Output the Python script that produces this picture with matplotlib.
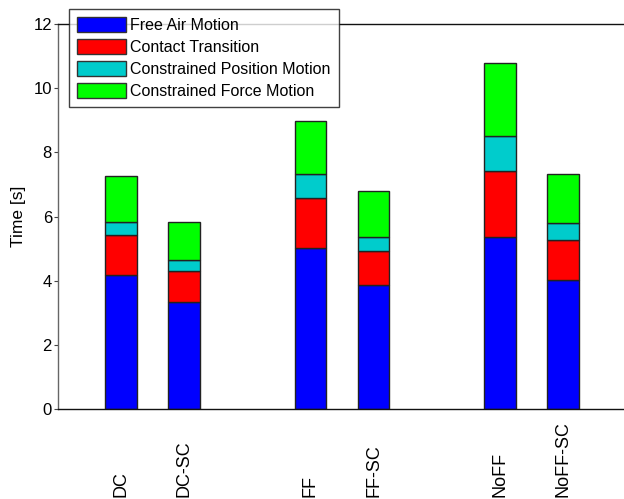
import matplotlib
matplotlib.use("Agg")
import matplotlib.pyplot as plt
from matplotlib.patches import Patch
from matplotlib.transforms import blended_transform_factory

plt.rcParams['font.family'] = ['Liberation Sans', 'DejaVu Sans']

# Controller variants and their timing breakdown (seconds)
categories = ["DC", "DC-SC", "FF", "FF-SC", "NoFF", "NoFF-SC"]
positions = [1, 2, 4, 5, 7, 8]
free_air = [4.19, 3.33, 5.01, 3.87, 5.35, 4.02]
contact_transition = [1.22, 0.96, 1.56, 1.06, 2.06, 1.25]
constrained_position = [0.43, 0.35, 0.76, 0.43, 1.09, 0.53]
constrained_force = [1.43, 1.19, 1.65, 1.44, 2.28, 1.53]

phase_names = ["Free Air Motion", "Contact Transition",
               "Constrained Position Motion", "Constrained Force Motion"]
phase_colors = ["#0000ff", "#ff0000", "#00cccc", "#00ff00"]
y_ticks = [0, 2, 4, 6, 8, 10, 12]

fig = plt.figure(figsize=(6.24, 4.99), dpi=100)
ax = fig.add_axes([57.5 / 624, 1 - 409 / 499, (626.5 - 57.5) / 624, (409 - 24) / 499])

bottom = [0.0] * len(categories)
for vals, color in zip([free_air, contact_transition, constrained_position, constrained_force],
                       phase_colors):
    ax.bar(positions, vals, width=0.5, bottom=bottom, color=color,
           edgecolor="#222222", linewidth=1.0, zorder=2)
    bottom = [b + v for b, v in zip(bottom, vals)]

ax.set_xlim(0, 9)
ax.set_ylim(0, 12)
ax.set_yticks(y_ticks)
ax.set_yticklabels([str(t) for t in y_ticks], fontsize=12)
ax.tick_params(axis='y', direction='out', length=3, width=0.8, color='#444444', pad=1)
ax.set_xticks(positions)
ax.set_xticklabels([])
ax.tick_params(axis='x', length=0)
ax.set_ylabel("Time [s]", fontsize=12.5, labelpad=5)

for side in ['top', 'bottom']:
    ax.spines[side].set_color('#111111')
    ax.spines[side].set_linewidth(1.0)
ax.spines['left'].set_color('#666666')
ax.spines['left'].set_linewidth(1.0)
ax.spines['right'].set_visible(False)

# Category labels, rotated and aligned to the bottom of the figure
trans = blended_transform_factory(ax.transData, fig.transFigure)
for x, name in zip(positions, categories):
    ax.text(x, 2 / 499, name, transform=trans, rotation=90,
            ha='center', va='bottom', fontsize=13)

handles = [Patch(facecolor=c, edgecolor='#333333', linewidth=1.0) for c in phase_colors]
leg = fig.legend(handles, phase_names, loc='upper left',
                 bbox_to_anchor=(69 / 624, 1 - 9 / 499), bbox_transform=fig.transFigure,
                 fontsize=11.5, frameon=True, fancybox=False, borderaxespad=0,
                 handlelength=3.05, handleheight=1.1, handletextpad=0.3,
                 labelspacing=0.36, borderpad=0.5)
leg.get_frame().set_edgecolor('#111111')
leg.get_frame().set_linewidth(1.0)

fig.savefig("out.png", dpi=100)
